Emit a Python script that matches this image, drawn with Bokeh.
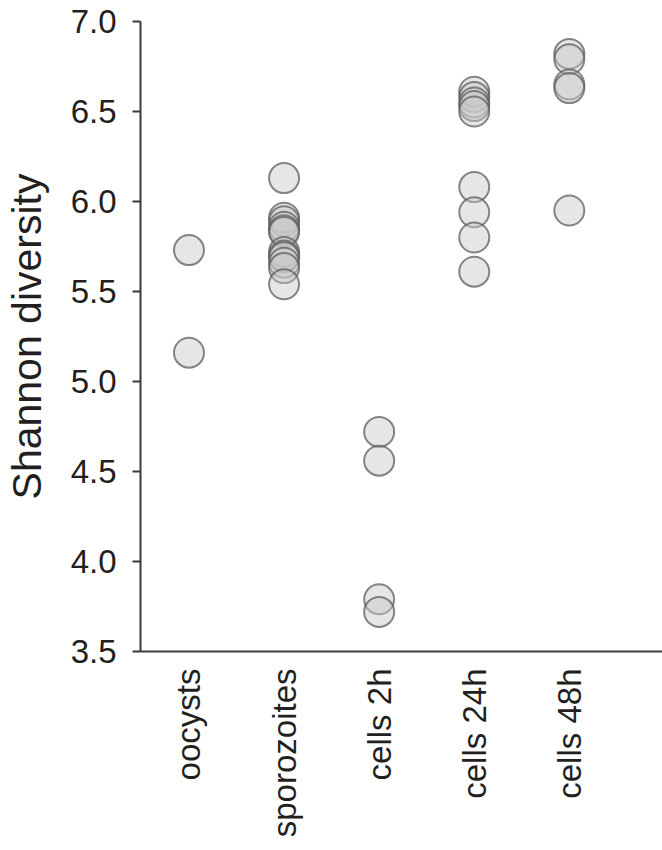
import math
from bokeh.plotting import figure
from bokeh.models import ColumnDataSource, FixedTicker, Range1d
from bokeh.embed import file_html
from bokeh.resources import INLINE

categories = ["oocysts", "sporozoites", "cells 2h", "cells 24h", "cells 48h"]
oocysts = [5.73, 5.16]
sporozoites = [6.13, 5.91, 5.89, 5.86, 5.84, 5.83, 5.72, 5.70, 5.69, 5.66, 5.63, 5.54]
cells_2h = [4.72, 4.56, 3.79, 3.72]
cells_24h = [6.61, 6.58, 6.55, 6.53, 6.50, 6.08, 5.94, 5.80, 5.61]
cells_48h = [6.82, 6.79, 6.65, 6.63, 5.95]
y_ticks = [3.5, 4.0, 4.5, 5.0, 5.5, 6.0, 6.5, 7.0]

groups = [oocysts, sporozoites, cells_2h, cells_24h, cells_48h]
xs, ys = [], []
for i, vals in enumerate(groups):
    for v in vals:
        xs.append(i + 1)
        ys.append(v)
src = ColumnDataSource(dict(x=xs, y=ys))

FONT = "Liberation Sans"
TXT = "#231f20"

p = figure(width=662, height=848, output_backend="svg", toolbar_location=None,
           x_range=Range1d(0.49, 5.98), y_range=Range1d(3.5, 7.0),
           min_border_left=135, min_border_right=0, min_border_top=21,
           min_border_bottom=197)
p.outline_line_color = None
p.grid.visible = False
p.background_fill_color = "white"
p.border_fill_color = "white"

p.scatter("x", "y", source=src, size=30, fill_color="#c8c8c8", fill_alpha=0.45,
          line_color="#5e5e5e", line_alpha=0.75, line_width=2)

# y axis
ya = p.yaxis[0]
ya.ticker = FixedTicker(ticks=y_ticks)
ya.major_label_overrides = {t: f"{t:.1f}" for t in y_ticks}
ya.minor_tick_line_color = None
ya.major_tick_in = 0
ya.major_tick_out = 8
ya.major_tick_line_width = 2
ya.major_tick_line_color = "#3a3a3a"
ya.axis_line_width = 2
ya.axis_line_color = "#3a3a3a"
ya.major_label_text_font = FONT
ya.major_label_text_font_size = "33px"
ya.major_label_text_color = TXT
ya.major_label_standoff = 16
ya.axis_label = "Shannon diversity"
ya.axis_label_text_font = FONT
ya.axis_label_text_font_size = "41px"
ya.axis_label_text_font_style = "normal"
ya.axis_label_text_color = TXT
ya.axis_label_standoff = 18

# x axis
xa = p.xaxis[0]
xa.ticker = FixedTicker(ticks=list(range(1, len(categories) + 1)))
xa.major_label_overrides = {i + 1: c for i, c in enumerate(categories)}
xa.minor_tick_line_color = None
xa.major_tick_in = 0
xa.major_tick_out = 0
xa.axis_line_width = 2
xa.axis_line_color = "#3a3a3a"
xa.major_label_orientation = math.pi / 2
xa.major_label_text_font = FONT
xa.major_label_text_font_size = "33px"
xa.major_label_text_color = TXT
xa.major_label_standoff = 17

open("out.html", "w").write(file_html(p, INLINE))
